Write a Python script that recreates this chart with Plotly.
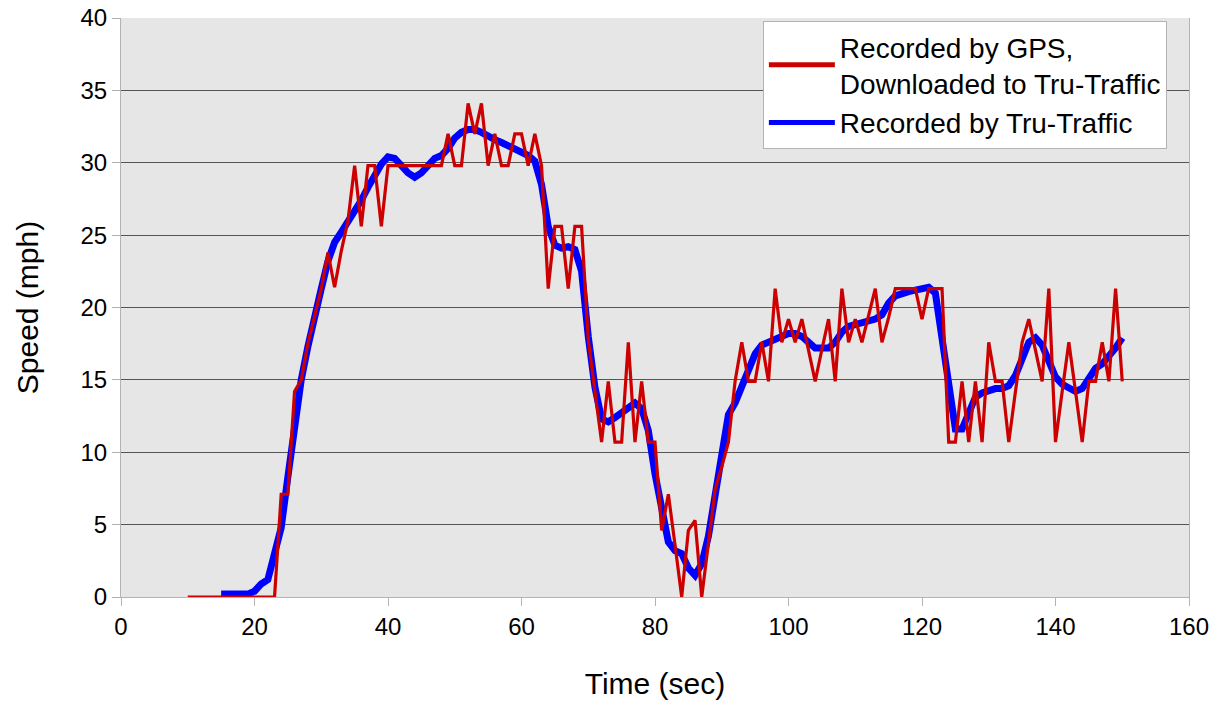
import plotly.graph_objects as go

# GPS log, one reading per second (mph)
gps_time = list(range(10, 151))
gps_speed = [
    0, 0, 0, 0, 0, 0, 0, 0, 0, 0, 0, 0, 0, 0,            # 10-23
    7.1, 7.1, 14.2, 15.0, 17.5, 19.3, 21.3, 23.8, 21.4, 23.9,  # 24-33
    26.0, 29.8, 25.6, 29.8, 29.8, 25.6,                    # 34-39
    29.8, 29.8, 29.8, 29.8, 29.8, 29.8, 29.8, 29.8, 29.8,  # 40-48
    32.0, 29.8, 29.8, 34.1, 32.0, 34.1, 29.8, 32.0, 29.8, 29.8,  # 49-58
    32.0, 32.0, 29.8, 32.0, 29.8, 21.3, 25.6, 25.6, 21.3, 25.6,  # 59-68
    25.6, 17.8, 14.2, 10.7, 14.9, 10.7, 10.7, 17.6, 10.7, 14.9,  # 69-78
    10.7, 10.7, 4.6, 7.1, 3.6, 0, 4.6, 5.3, 0, 3.9,        # 79-88
    7.4, 9.0, 10.7, 14.9, 17.6, 14.9, 14.9, 17.6, 14.9, 21.3,  # 89-98
    17.6, 19.2, 17.6, 19.2, 17.1, 14.9, 17.1, 19.2, 14.9, 21.3,  # 99-108
    17.6, 19.2, 17.6, 19.4, 21.3, 17.6, 19.3, 21.3, 21.3, 21.3,  # 109-118
    21.3, 19.2, 21.3, 21.3, 21.3, 10.7, 10.7, 14.9, 10.7, 14.9,  # 119-128
    10.7, 17.6, 14.9, 14.9, 10.7, 14.2, 17.6, 19.2, 17.1, 14.9,  # 129-138
    21.3, 10.7, 14.2, 17.6, 14.2, 10.7, 14.9, 14.9, 17.6, 14.9,  # 139-148
    21.3, 14.9,                                            # 149-150
]

# Tru-Traffic log (mph)
tt_time = list(range(15, 151))
tt_speed = [
    0.2, 0.2, 0.2, 0.2, 0.2, 0.4, 0.9, 1.2, 3.0, 4.8,      # 15-24
    8.3, 12.0, 15.0, 17.3, 19.5, 21.3, 23.2, 24.5, 25.2, 25.9,  # 25-34
    26.6, 27.4, 28.3, 29.1, 29.9, 30.4, 30.3, 29.8, 29.3, 29.0,  # 35-44
    29.3, 29.8, 30.3, 30.5, 31.0, 31.7, 32.1, 32.3, 32.3, 32.1,  # 45-54
    31.8, 31.6, 31.4, 31.2, 31.0, 30.8, 30.5, 30.1, 28.5, 25.6,  # 55-64
    24.3, 24.1, 24.2, 24.0, 22.5, 18.0, 14.5, 12.3, 12.1, 12.4,  # 65-74
    12.7, 13.1, 13.4, 13.0, 11.5, 8.5, 5.8, 3.8, 3.2, 3.0,      # 75-84
    2.0, 1.5, 2.3, 4.2, 7.0, 9.8, 12.6, 13.4, 14.6, 15.9,       # 85-94
    16.8, 17.4, 17.6, 17.9, 18.1, 18.2, 18.2, 18.0, 17.6, 17.2,  # 95-104
    17.2, 17.2, 17.6, 18.3, 18.7, 18.8, 18.9, 19.0, 19.2, 19.5,  # 105-114
    20.3, 20.8, 21.0, 21.1, 21.2, 21.3, 21.4, 21.0, 18.0, 14.5,  # 115-124
    11.6, 11.6, 12.8, 13.8, 14.1, 14.3, 14.4, 14.4, 14.6, 15.3,  # 125-134
    16.5, 17.6, 17.9, 17.4, 16.3, 15.2, 14.7, 14.4, 14.2, 14.4,  # 135-144
    15.2, 15.8, 16.1, 16.6, 17.2, 17.9,                          # 145-150
]

x_ticks = [0, 20, 40, 60, 80, 100, 120, 140, 160]
y_ticks = [0, 5, 10, 15, 20, 25, 30, 35, 40]

FONT = "Liberation Sans, Arial, sans-serif"


def plot_speed_comparison():
    fig = go.Figure()

    # blue goes first so the red GPS trace sits on top of it
    fig.add_trace(go.Scatter(
        x=tt_time, y=tt_speed, mode="lines",
        name="Recorded by Tru-Traffic",
        line=dict(color="#0000ff", width=7),
    ))
    fig.add_trace(go.Scatter(
        x=gps_time, y=gps_speed, mode="lines",
        name="Recorded by GPS,<br>Downloaded to Tru-Traffic",
        line=dict(color="#cc0000", width=3.2),
    ))

    fig.update_layout(
        width=1222, height=702,
        paper_bgcolor="white",
        plot_bgcolor="#e6e6e6",
        margin=dict(l=121, r=33, t=18, b=105),
        font=dict(family=FONT, size=24, color="black"),
        showlegend=True,
        legend=dict(
            x=0.601, y=0.995, xanchor="left", yanchor="top",
            bgcolor="white", bordercolor="#b3b3b3", borderwidth=1,
            traceorder="reversed",
            font=dict(size=28),
            itemwidth=66,
            itemsizing="constant",
        ),
    )
    fig.update_xaxes(
        range=[0, 160], tickvals=x_ticks,
        showgrid=False, zeroline=False, automargin=False,
        ticklabeloverflow="allow",
        showline=True, linecolor="#b3b3b3", linewidth=1,
        ticks="outside", ticklen=8, tickcolor="#b3b3b3",
        title=dict(text="Time (sec)", font=dict(size=30), standoff=34),
    )
    fig.update_yaxes(
        range=[0, 40], tickvals=y_ticks,
        showgrid=True, gridcolor="#555555", gridwidth=1,
        zeroline=False, automargin=False,
        ticklabeloverflow="allow",
        showline=True, mirror=True, linecolor="#b3b3b3", linewidth=1,
        ticks="outside", ticklen=8, tickcolor="#b3b3b3",
        title=dict(text="Speed (mph)", font=dict(size=30), standoff=32),
    )

    # drop the default 8px page margin so the figure fills the window exactly
    fig.write_html(
        "out.html",
        config={"displayModeBar": False},
        post_script="document.body.style.margin='0';",
    )


if __name__ == "__main__":
    plot_speed_comparison()
